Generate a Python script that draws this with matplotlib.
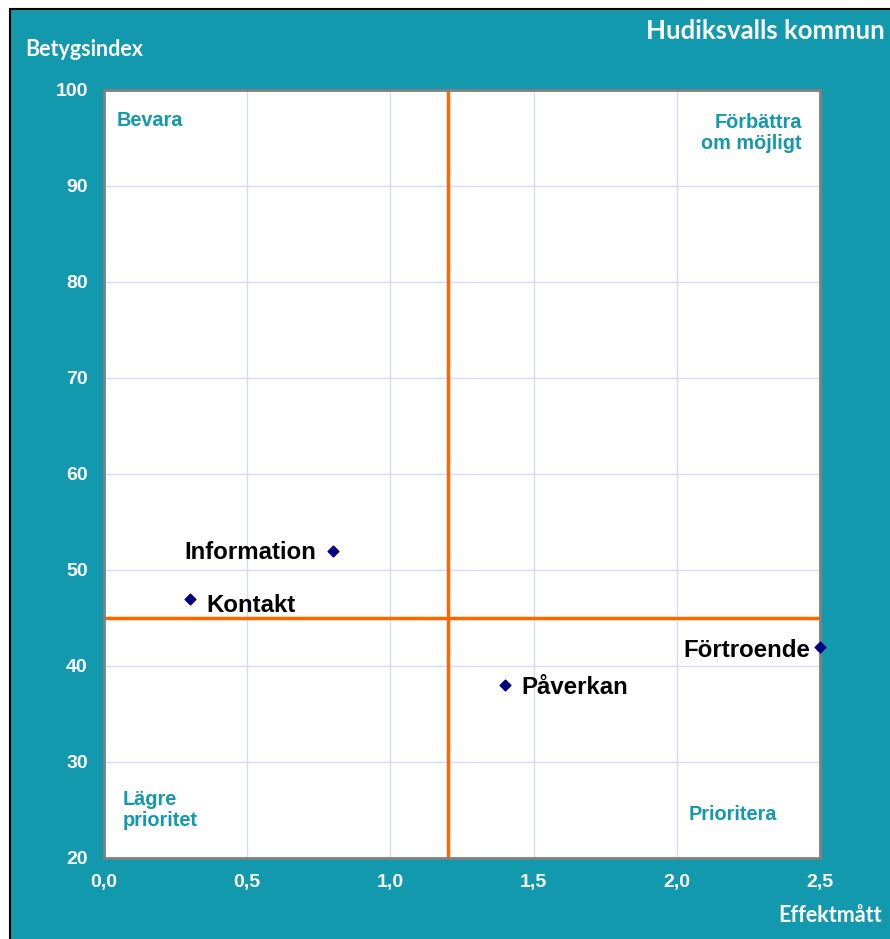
import matplotlib.pyplot as plt
from matplotlib.patches import Rectangle

# data
labels = ['Information', 'Kontakt', 'Påverkan', 'Förtroende']
effekt = [0.8, 0.3, 1.4, 2.5]
betyg = [52, 47, 38, 42]
# label offsets in points (dx, dy) and alignment
offsets = [(-12, -1, 'right'), (12, -5, 'left'), (12, -2, 'left'), (-7, -3, 'right')]

x_ticks = [0.0, 0.5, 1.0, 1.5, 2.0, 2.5]
y_ticks = [20, 30, 40, 50, 60, 70, 80, 90, 100]
x_split = 1.2
y_split = 45

teal = '#1399AE'
W, H = 890, 939

plt.rcParams['font.family'] = ['Liberation Sans', 'DejaVu Sans']
plt.rcParams['font.weight'] = 'bold'

fig = plt.figure(figsize=(W / 100, H / 100), dpi=100)
fig.patch.set_facecolor('white')

# teal background box with black edge
bg = Rectangle((10 / W, -0.05), 1.1, 1 - 9 / H + 0.05, transform=fig.transFigure,
               facecolor=teal, edgecolor='black', linewidth=1.5, zorder=-5)
fig.patches.append(bg)

ax = fig.add_axes([104 / W, (H - 858) / H, 716 / W, 768 / H])
ax.set_zorder(1)
ax.set_facecolor('white')
ax.set_xlim(0, 2.5)
ax.set_ylim(20, 100)
tick_font = dict(fontsize=14, fontweight='bold', color='white')
ax.set_xticks(x_ticks)
ax.set_yticks(y_ticks)
ax.set_xticklabels([f'{v:.1f}'.replace('.', ',') for v in x_ticks], **tick_font)
ax.set_yticklabels([str(v) for v in y_ticks], **tick_font)
ax.grid(True, color='#D8D8FF', linewidth=1)
ax.set_axisbelow(True)
ax.tick_params(length=0)
ax.tick_params(axis='y', pad=11.7)
ax.tick_params(axis='x', pad=11.5)
for sp in ax.spines.values():
    sp.set_color('#808080')
    sp.set_linewidth(2)

ax.axvline(x_split, color='#FF6600', linewidth=2.5, zorder=2)
ax.axhline(y_split, color='#FF6600', linewidth=2.5, zorder=2)

ax.scatter(effekt, betyg, marker='D', s=30, color='#000080', zorder=4, clip_on=False)
for lab, x, y, (dx, dy, ha) in zip(labels, effekt, betyg, offsets):
    ax.annotate(lab, (x, y), xytext=(dx, dy), textcoords='offset points',
                ha=ha, va='center', fontsize=17.3, fontweight='bold',
                color='black', zorder=5)

qkw = dict(fontsize=14.3, fontweight='bold', color=teal,
           transform=ax.transAxes, linespacing=1.15)
ax.text(13 / 716, 1 - 30 / 768, 'Bevara', ha='left', va='center', **qkw)
ax.text(698 / 716, 1 - 43 / 768, 'Förbättra\nom möjligt', ha='right', va='center', **qkw)
ax.text(19 / 716, 48 / 768, 'Lägre\nprioritet', ha='left', va='center', **qkw)
ax.text(629 / 716, 43 / 768, 'Prioritera', ha='center', va='center', **qkw)

tkw = dict(fontweight='bold', family=['Lato', 'DejaVu Sans'], color='white')
fig.text(25 / W, 1 - 50 / H, 'Betygsindex', ha='left', va='center', fontsize=15.5, **tkw)
fig.text(885 / W, 1 - 31 / H, 'Hudiksvalls kommun', ha='right', va='center', fontsize=18.5, **tkw)
fig.text(882 / W, 1 - 916 / H, 'Effektmått', ha='right', va='center', fontsize=15.5, **tkw)

fig.savefig('out.png', dpi=100, facecolor=fig.get_facecolor())
